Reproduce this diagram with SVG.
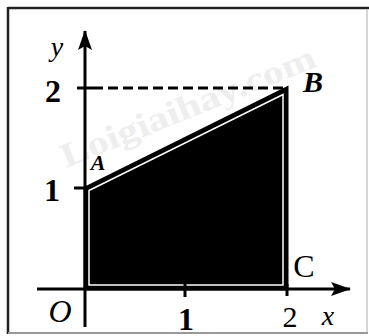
<svg xmlns="http://www.w3.org/2000/svg" width="369" height="336" viewBox="0 0 369 336">
  <style>
    .num { font-family: "Liberation Serif", "Times New Roman", serif; fill: #000; text-anchor: middle; }
    .var { font-family: "Liberation Serif", "Times New Roman", serif; font-style: italic; fill: #000; text-anchor: middle; }
    .axis { stroke: #000; stroke-width: 3; fill: none; }
    .wm { font-family: "Liberation Serif", serif; font-weight: bold; fill: #eeeeee; }
  </style>
  <defs>
    <marker id="arrow" viewBox="0 0 20 14" refX="19" refY="7" markerWidth="20" markerHeight="14" markerUnits="userSpaceOnUse" orient="auto">
      <path d="M0,0 L20,7 L0,14 L4,7 Z" fill="#000"/>
    </marker>
  </defs>
  <rect x="0" y="0" width="369" height="336" fill="#fff"/>
  <g id="frame">
    <line x1="8" y1="8" x2="369" y2="8" stroke="#222" stroke-width="2.5"/>
    <line x1="8" y1="7" x2="8" y2="334" stroke="#222" stroke-width="2.5"/>
    <line x1="367" y1="9" x2="367" y2="334" stroke="#c8c8c8" stroke-width="1.5"/>
    <line x1="8" y1="333" x2="368" y2="333" stroke="#999" stroke-width="2"/>
  </g>
  <g id="watermark">
    <text class="wm" x="66" y="168" font-size="34" transform="rotate(-22 66 168)" textLength="272" lengthAdjust="spacingAndGlyphs">Loigiaihay.com</text>
  </g>
  <g id="region">
    <polygon points="85,188 287,88 287,289 85,289" fill="#000" stroke="#000" stroke-width="3" stroke-linejoin="miter"/>
    <polygon points="89,190.5 283,94.5 283,285 89,285" fill="#000" stroke="#fff" stroke-width="1.5"/>
  </g>
  <g id="connectors">
    <line class="axis" x1="85" y1="327" x2="85" y2="31" marker-end="url(#arrow)"/>
    <line class="axis" x1="37" y1="289" x2="350" y2="289" marker-end="url(#arrow)"/>
    <line x1="93" y1="88" x2="286" y2="88" stroke="#000" stroke-width="3" stroke-dasharray="10,5"/>
    <line x1="77" y1="88" x2="93" y2="88" stroke="#000" stroke-width="3"/>
    <line x1="74" y1="188" x2="85" y2="188" stroke="#000" stroke-width="3"/>
    <line x1="185" y1="281" x2="185" y2="297" stroke="#000" stroke-width="3"/>
    <line x1="287" y1="284" x2="287" y2="296" stroke="#000" stroke-width="3"/>
  </g>
  <g id="labels">
    <text class="var" x="57" y="56" font-size="28">y</text>
    <text class="num" x="53" y="102" font-size="32" font-weight="bold">2</text>
    <text class="num" x="52" y="201" font-size="32" font-weight="bold">1</text>
    <text class="var" x="98" y="170" font-size="22" font-weight="bold">A</text>
    <text class="var" x="313" y="92" font-size="30" font-weight="bold">B</text>
    <text class="num" x="304" y="277" font-size="32">C</text>
    <text class="var" x="60" y="322" font-size="32">O</text>
    <text class="num" x="186" y="330" font-size="32" font-weight="bold">1</text>
    <text class="num" x="290" y="327" font-size="30">2</text>
    <text class="var" x="328" y="325" font-size="28">x</text>
  </g>
</svg>
